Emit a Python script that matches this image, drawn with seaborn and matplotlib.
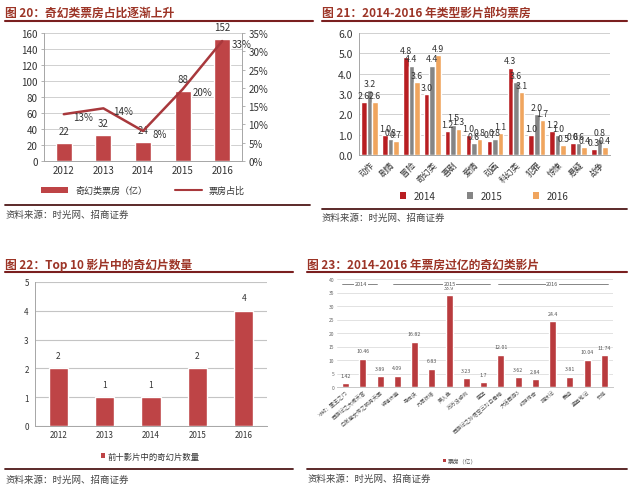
import numpy as np
import pandas as pd
import matplotlib
matplotlib.use("Agg")
import matplotlib.pyplot as plt
import seaborn as sns
from matplotlib.lines import Line2D
from matplotlib.patches import Patch
from matplotlib.ticker import FuncFormatter

sns.set_style("white")
plt.rcParams['font.family'] = ['Noto Sans CJK SC', 'DejaVu Sans']
plt.rcParams['axes.unicode_minus'] = False

# ---------------- data ----------------
years = ["2012", "2013", "2014", "2015", "2016"]
fantasy_box = [22, 32, 24, 88, 152]          # 奇幻类票房（亿）
fantasy_share = [12.8, 14.4, 8.2, 19.6, 32.8]  # 票房占比 %

genres = ["动作", "剧情", "冒险", "奇幻类", "喜剧", "爱情", "动画", "科幻类", "犯罪", "惊悚", "悬疑", "战争"]
avg_2014 = [2.6, 1.0, 4.8, 3.0, 1.2, 1.0, 0.7, 4.3, 1.0, 1.2, 0.6, 0.3]
avg_2015 = [3.2, 0.8, 4.4, 4.4, 1.5, 0.6, 0.8, 3.6, 2.0, 1.0, 0.6, 0.8]
avg_2016 = [2.6, 0.7, 3.6, 4.9, 1.3, 0.8, 1.1, 3.1, 1.7, 0.5, 0.4, 0.4]
genre_years = ["2014", "2015", "2016"]

top10_count = [2, 1, 1, 2, 4]

films = ["冰封：重生之门", "西游记之大闹天宫", "白发魔女传之明月天国", "钟馗伏魔", "寻龙诀",
         "九层妖塔", "美人鱼", "万万没想到", "画壁", "西游记之孙悟空三打白骨精",
         "大话西游3", "封神传奇", "捉妖记", "爵迹", "盗墓笔记", "长城"]
film_box = [1.42, 10.46, 3.89, 4.09, 16.82, 6.83, 33.9, 3.23, 1.7, 12.01,
            3.62, 2.84, 24.4, 3.81, 10.04, 11.74]
film_groups = ["2014", "2015", "2016"]

# ---------------- style ----------------
W, H = 640, 502
RED = "#BE4446"
LINE_RED = "#A8383C"
TITLE_C = "#9C3426"
TLINE_C = "#7A1F1F"
SRC_LINE_C = "#4E1818"
GRID_C = "#D0D0D0"
SPINE_C = "#A6A6A6"
TXT_C = "#333333"

fig = plt.figure(figsize=(6.4, 5.02), dpi=100)
fig.patch.set_facecolor("white")


def fx(x):
    return x / W


def fy(y):
    return 1 - y / H


def add_axes(l, r, t, b):
    return fig.add_axes([fx(l), fy(b), fx(r - l), (b - t) / H])


def hline(x0, x1, y, color, lw):
    fig.add_artist(Line2D([fx(x0), fx(x1)], [fy(y), fy(y)], color=color, lw=lw,
                          transform=fig.transFigure))


def header(x, y, text, x1, yl):
    fig.text(fx(x), fy(y), text, fontsize=8.5, fontweight="bold", color=TITLE_C,
             va="center", ha="left")
    hline(x, x1, yl, TLINE_C, 1.5)


def footer(x, x1, yl, yt):
    hline(x, x1, yl, SRC_LINE_C, 1.3)
    fig.text(fx(x), fy(yt), "资料来源：时光网、招商证券", fontsize=6.8, color="#444444",
             va="center", ha="left")


def style_axes(ax, fs):
    for s in ["top", "right"]:
        ax.spines[s].set_visible(False)
    ax.spines["left"].set_color(SPINE_C)
    ax.spines["bottom"].set_color(SPINE_C)
    ax.spines["left"].set_linewidth(0.7)
    ax.spines["bottom"].set_linewidth(0.7)
    ax.yaxis.grid(True, color=GRID_C, lw=0.7)
    ax.xaxis.grid(False)
    ax.set_axisbelow(True)
    ax.tick_params(axis="y", labelsize=fs, colors=TXT_C, length=2.5, width=0.6,
                   color=SPINE_C, pad=2)
    ax.tick_params(axis="x", labelsize=fs, colors=TXT_C, length=0, pad=3)
    ax.set_xlabel("")
    ax.set_ylabel("")


def cat_minor_ticks(ax, n):
    ax.set_xticks(np.arange(-0.5, n, 1.0), minor=True)
    ax.tick_params(axis="x", which="minor", length=2.5, width=0.6, color=SPINE_C)


# ================= Panel 图20 =================
header(5, 13, "图 20：奇幻类票房占比逐渐上升", 313, 22)
ax1 = add_axes(44, 242, 34, 162)
df1 = pd.DataFrame({"year": years, "box": fantasy_box, "share": fantasy_share})
sns.barplot(data=df1, x="year", y="box", color=RED, width=0.4, saturation=1, ax=ax1)
ax1.set_ylim(0, 160)
ax1.set_yticks(np.arange(0, 161, 20))
ax1.set_xlim(-0.5, len(years) - 0.5)
style_axes(ax1, 7)
cat_minor_ticks(ax1, len(years))
ax1.bar_label(ax1.containers[0], labels=[str(v) for v in fantasy_box], fontsize=7,
              color=TXT_C, padding=5)
ax1b = ax1.twinx()
sns.lineplot(x=np.arange(len(years)), y=fantasy_share, color=LINE_RED, lw=1.8, ax=ax1b)
ax1b.set_ylim(0, 35)
ax1b.set_yticks(np.arange(0, 36, 5))
ax1b.yaxis.set_major_formatter(FuncFormatter(lambda v, p: f"{v:.0f}%"))
for s in ["top", "left", "bottom"]:
    ax1b.spines[s].set_visible(False)
ax1b.spines["right"].set_color(SPINE_C)
ax1b.spines["right"].set_linewidth(0.7)
ax1b.tick_params(axis="y", labelsize=7, colors=TXT_C, length=2.5, width=0.6,
                 color=SPINE_C, pad=2)
ax1b.grid(False)
for i, v in enumerate(fantasy_share):
    ax1b.annotate(f"{v:.0f}%", (i, v), xytext=(7, -2), textcoords="offset points",
                  fontsize=7, color=TXT_C, ha="left", va="center")
h1 = [Patch(facecolor=RED, edgecolor="none"), Line2D([], [], color=LINE_RED, lw=1.5)]
ax1.legend(h1, ["奇幻类票房（亿）", "票房占比"], loc="center", bbox_to_anchor=(0.5, -0.23),
           ncol=2, frameon=False, fontsize=6.5, handlelength=3, handleheight=0.6,
           columnspacing=3, labelcolor=TXT_C)
footer(5, 310, 206, 215)

# ================= Panel 图21 =================
header(322, 13, "图 21：2014-2016 年类型影片部均票房", 627, 22)
ax2 = add_axes(359, 610, 34, 156)
df2 = pd.DataFrame({
    "genre": genres * 3,
    "year": sum([[y] * len(genres) for y in genre_years], []),
    "val": avg_2014 + avg_2015 + avg_2016,
})
pal2 = {"2014": "#B81E22", "2015": "#858585", "2016": "#F0A55E"}
sns.barplot(data=df2, x="genre", y="val", hue="year", palette=pal2, width=0.8,
            saturation=1, ax=ax2, legend=False)
ax2.set_ylim(0, 6)
ax2.set_yticks(np.arange(0, 6.1, 1))
ax2.yaxis.set_major_formatter(FuncFormatter(lambda v, p: f"{v:.1f}"))
ax2.set_xlim(-0.5, len(genres) - 0.5)
style_axes(ax2, 7)
ax2.tick_params(axis="y", labelsize=7.5)
ax2.set_xticks(range(len(genres)))
ax2.set_xticklabels(genres, rotation=45, ha="right", rotation_mode="anchor", fontsize=6)
for cont in ax2.containers:
    ax2.bar_label(cont, fmt="%.1f", fontsize=6.3, color=TXT_C, padding=1.5)
h2 = [Patch(facecolor=pal2[y], edgecolor="none") for y in genre_years]
ax2.legend(h2, genre_years, loc="center", bbox_to_anchor=(0.5, -0.335), ncol=3,
           frameon=False, fontsize=7, handlelength=0.6, handleheight=0.6,
           columnspacing=3.2, labelcolor=TXT_C)
footer(322, 627, 210, 218)

# ================= Panel 图22 =================
header(5, 265, "图 22：Top 10 影片中的奇幻片数量", 293, 273)
ax3 = add_axes(35, 267, 283, 427)
df3 = pd.DataFrame({"year": years, "n": top10_count})
sns.barplot(data=df3, x="year", y="n", color=RED, width=0.41, saturation=1, ax=ax3)
ax3.set_ylim(0, 5)
ax3.set_yticks(range(0, 6))
ax3.set_xlim(-0.5, len(years) - 0.5)
style_axes(ax3, 5.8)
ax3.yaxis.grid(True, color="#C4C4C4", lw=0.8)
cat_minor_ticks(ax3, len(years))
ax3.bar_label(ax3.containers[0], labels=[str(v) for v in top10_count], fontsize=6,
              color=TXT_C, padding=6)
ax3.legend([Patch(facecolor=RED, edgecolor="none")], ["前十影片中的奇幻片数量"],
           loc="center", bbox_to_anchor=(0.496, -0.208), frameon=False, fontsize=6,
           handlelength=0.5, handleheight=0.5, handletextpad=0.3, labelcolor=TXT_C)
footer(5, 293, 470, 480)

# ================= Panel 图23 =================
header(307, 265, "图 23：2014-2016 年票房过亿的奇幻类影片", 627, 273)
ax4 = add_axes(337, 613, 280, 388)
df4 = pd.DataFrame({"film": films, "box": film_box})
sns.barplot(data=df4, x="film", y="box", color="#B93B3E", width=0.42, saturation=1, ax=ax4)
ax4.set_ylim(0, 40)
ax4.set_yticks(range(0, 41, 5))
ax4.set_xlim(-0.5, len(films) - 0.5)
style_axes(ax4, 3.6)
ax4.spines["left"].set_visible(False)
ax4.spines["bottom"].set_color("#C8C8C8")
ax4.yaxis.grid(True, color="#DDDDDD", lw=0.6)
ax4.tick_params(axis="y", length=0, colors="#666666")
ax4.set_xticks(range(len(films)))
ax4.set_xticklabels(films, rotation=40, ha="right", rotation_mode="anchor",
                    fontsize=3.8, color="#555555")
ax4.tick_params(axis="x", pad=1.5)
ax4.bar_label(ax4.containers[0], labels=[f"{v:g}" for v in film_box], fontsize=3.8,
              color="#555555", padding=4)
bracket_pos = [(0.018, 0.145, 0.087), (0.203, 0.554, 0.408), (0.583, 0.982, 0.78)]
for lab, (x0, x1, xc) in zip(film_groups, bracket_pos):
    ax4.plot([x0, x1], [0.958, 0.958], transform=ax4.transAxes, color="#555555",
             lw=0.5, clip_on=False)
    ax4.text(xc, 0.958, lab, transform=ax4.transAxes, fontsize=4, color="#555555",
             ha="center", va="center",
             bbox=dict(facecolor="white", edgecolor="none", pad=0.4))
ax4.legend([Patch(facecolor="#B93B3E", edgecolor="none")], ["票房（亿）"], loc="center",
           bbox_to_anchor=(0.446, -0.685), frameon=False, fontsize=4.2,
           handlelength=0.45, handleheight=0.45, handletextpad=0.3, labelcolor="#555555")
footer(307, 627, 470, 479)

fig.savefig("out.png", dpi=100, facecolor="white")
